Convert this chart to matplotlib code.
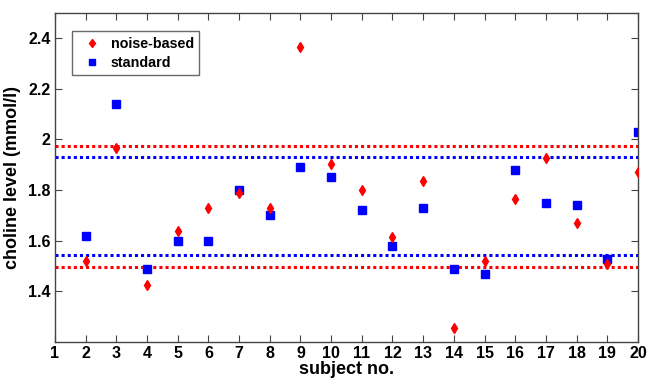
import matplotlib.pyplot as plt
import numpy as np

plt.rcParams['font.family'] = ['Liberation Sans', 'DejaVu Sans']
plt.rcParams['font.weight'] = 'bold'

subjects = list(range(2, 21))
noise_based = [1.52, 1.965, 1.425, 1.64, 1.73, 1.79, 1.73, 2.365, 1.905, 1.80,
               1.615, 1.835, 1.255, 1.52, 1.765, 1.925, 1.67, 1.51, 1.87]
standard = [1.62, 2.14, 1.49, 1.60, 1.60, 1.80, 1.70, 1.89, 1.85, 1.72,
            1.58, 1.73, 1.49, 1.47, 1.88, 1.75, 1.74, 1.53, 2.03]
noise_limits = [1.974, 1.497]
standard_limits = [1.932, 1.542]

fig = plt.figure(figsize=(6.47, 3.78), dpi=100)
ax = fig.add_axes([0.085, 0.095, 0.901, 0.871])

for v in noise_limits:
    ax.axhline(v, color='red', linestyle=(0, (1, 1)), linewidth=2.2, zorder=1)
for v in standard_limits:
    ax.axhline(v, color='blue', linestyle=(0, (1, 1)), linewidth=2.2, zorder=1)

ax.plot(subjects, noise_based, 'd', color='red', markersize=5.5,
        linestyle='none', label='noise-based', zorder=3)
ax.plot(subjects, standard, 's', color='blue', markersize=6,
        linestyle='none', label='standard', zorder=2)

ax.set_xlim(1, 20)
ax.set_ylim(1.2, 2.5)
ax.set_xticks(range(1, 21))
ax.set_yticks([1.4, 1.6, 1.8, 2.0, 2.2, 2.4])
ax.set_yticklabels(['1.4', '1.6', '1.8', '2', '2.2', '2.4'])
ax.tick_params(direction='in', top=True, right=True, length=5,
               labelsize=11.5, color='#444444', pad=3)
for s in ax.spines.values():
    s.set_color('#444444')
    s.set_linewidth(1.0)

ax.set_xlabel('subject no.', fontsize=13, fontweight='bold', labelpad=0)
ax.set_ylabel('choline level (mmol/l)', fontsize=13, fontweight='bold', labelpad=5)

leg = ax.legend(loc='upper left', bbox_to_anchor=(0.029, 0.945), fontsize=10.3,
                fancybox=False, edgecolor='#444444', borderpad=0.4,
                borderaxespad=0, handletextpad=0.3, labelspacing=0.35,
                handlelength=2.0, markerscale=0.8)
leg.get_frame().set_linewidth(1.0)

fig.savefig('out.png', dpi=100)
